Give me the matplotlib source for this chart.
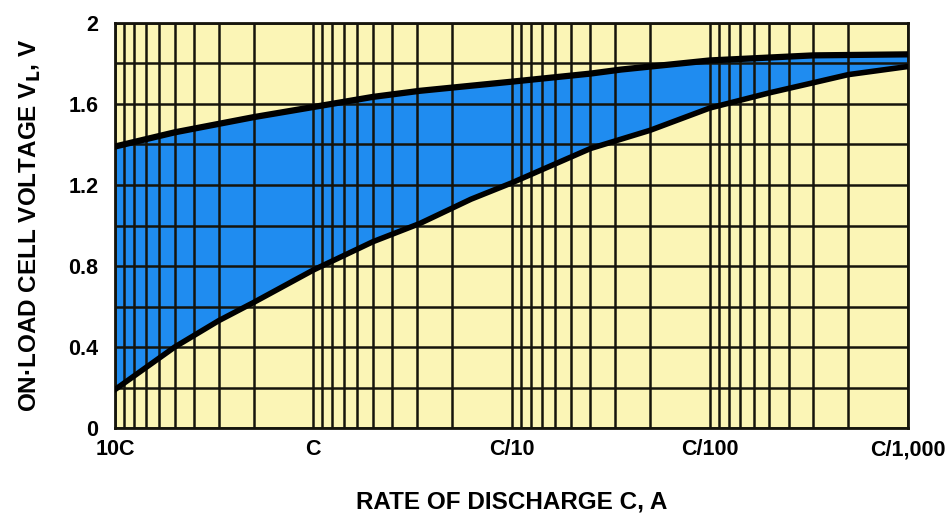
import matplotlib
matplotlib.use("Agg")
import matplotlib.pyplot as plt
import numpy as np

# discharge rate in multiples of C (log axis, high rate on the left)
upper_rate = [10, 5, 2, 1, 0.5, 0.29, 0.1, 0.04, 0.028, 0.01, 0.003, 0.001]
upper_volt = [1.39, 1.46, 1.535, 1.585, 1.635, 1.665, 1.71, 1.75, 1.77, 1.815, 1.84, 1.845]

lower_rate = [10, 5, 3, 2, 1, 0.5, 0.29, 0.16, 0.1, 0.04, 0.02, 0.01, 0.005, 0.003, 0.002, 0.001]
lower_volt = [0.19, 0.40, 0.53, 0.62, 0.78, 0.92, 1.01, 1.13, 1.21, 1.38, 1.47, 1.58, 1.655, 1.705, 1.745, 1.785]

x_ticks = [10, 1, 0.1, 0.01, 0.001]
x_labels = ["10C", "C", "C/10", "C/100", "C/1,000"]
y_ticks = [0, 0.4, 0.8, 1.2, 1.6, 2]
y_labels = ["0", "0.4", "0.8", "1.2", "1.6", "2"]

plt.rcParams["font.family"] = ["Liberation Sans", "DejaVu Sans"]
plt.rcParams["font.weight"] = "bold"
plt.rcParams["mathtext.default"] = "bf"

yellow = "#fbf5b6"
blue = "#1f8cf0"
ink = "#15140c"

fig = plt.figure(figsize=(9.46, 5.22), dpi=100)
ax = fig.add_axes([0.1216, 0.180, 0.8382, 0.776])
ax.set_facecolor(yellow)
ax.set_xscale("log")
ax.set_xlim(10, 0.001)
ax.set_ylim(0, 2)

# shaded band between the two curves, on a common log grid
grid = np.logspace(1, -3, 400)
up = np.interp(np.log10(grid), np.log10(upper_rate[::-1]), upper_volt[::-1])
lo = np.interp(np.log10(grid), np.log10(lower_rate[::-1]), lower_volt[::-1])
ax.fill_between(grid, lo, up, color=blue, zorder=1, lw=0)

# graph-paper grid: 1..9 in every decade, 0.2 V steps
minor_x = [m * 10.0 ** e for e in range(-3, 1) for m in range(1, 10)] + [10]
for xv in minor_x:
    ax.axvline(xv, color=ink, lw=1.8, zorder=2)
for yv in np.arange(0, 2.01, 0.2):
    ax.axhline(yv, color=ink, lw=1.8, zorder=2)

ax.plot(upper_rate, upper_volt, color="black", lw=4.5, zorder=3,
        solid_joinstyle="round")
ax.plot(lower_rate, lower_volt, color="black", lw=4, zorder=3,
        solid_joinstyle="round")

for s in ax.spines.values():
    s.set_color(ink)
    s.set_linewidth(2)

ax.set_xticks(x_ticks)
ax.set_xticklabels(x_labels)
ax.xaxis.set_minor_locator(matplotlib.ticker.NullLocator())
ax.set_yticks(y_ticks)
ax.set_yticklabels(y_labels)
ax.tick_params(length=0, labelsize=15.5)
ax.tick_params(axis="x", pad=8)
ax.tick_params(axis="y", pad=12)

ax.set_xlabel("RATE OF DISCHARGE C, A", fontsize=17.5, fontweight="bold", labelpad=22)
ax.set_ylabel("ON·LOAD CELL VOLTAGE V$_\\mathbf{L}$, V", fontsize=17.5,
              fontweight="bold", labelpad=18)

fig.savefig("out.png", dpi=100, facecolor="white")
